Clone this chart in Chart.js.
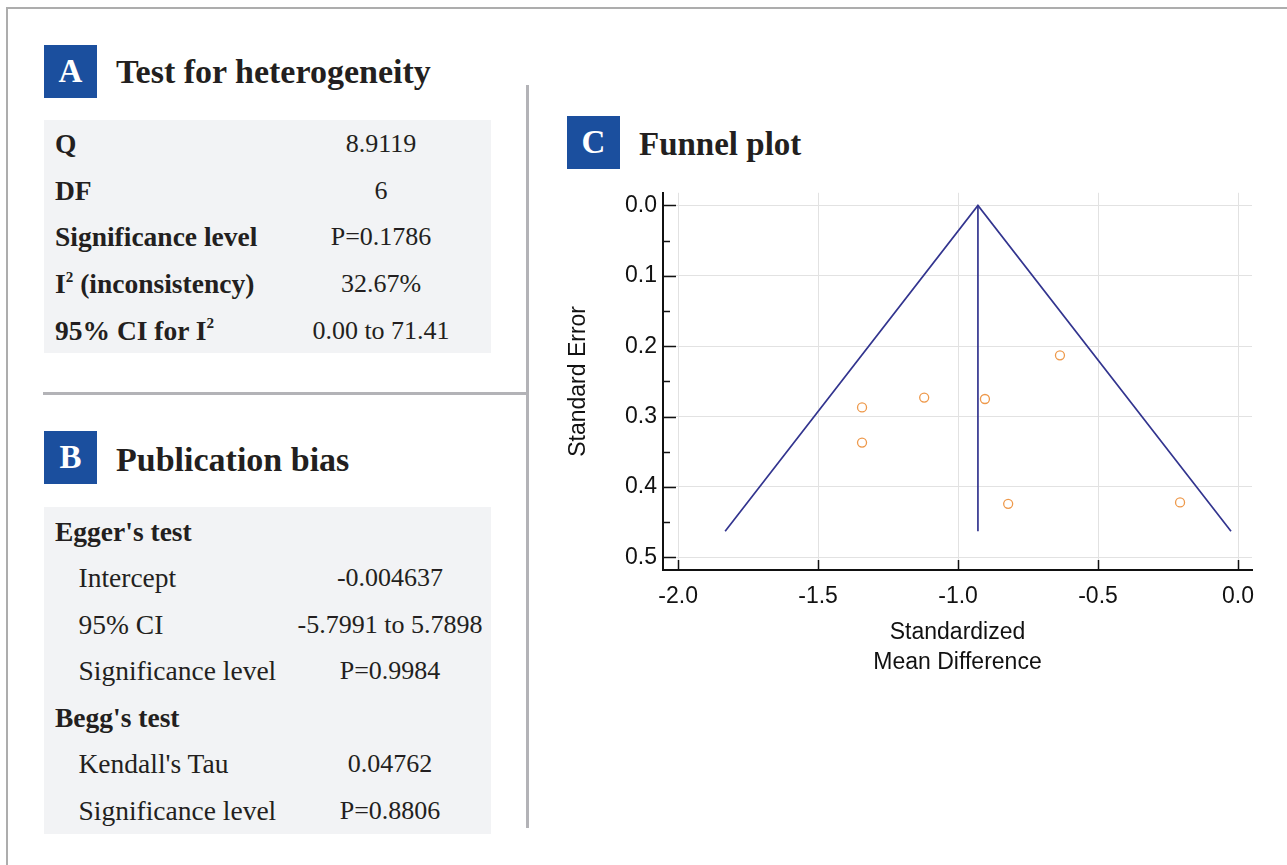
<!DOCTYPE html>
<html>
<head>
<meta charset="utf-8">
<script src="https://cdn.jsdelivr.net/npm/chart.js@4.4.1/dist/chart.umd.min.js"></script>
<style>
  html, body { margin: 0; padding: 0; background: #fff; }
  #page { position: relative; width: 1287px; height: 865px; overflow: hidden;
          font-family: "Liberation Serif", "DejaVu Serif", serif; color: #231f20; }
  .frame { position: absolute; left: 6px; top: 7px; width: 1300px; height: 900px;
           border-top: 2.5px solid #adadad; border-left: 2.5px solid #adadad; }
  .vdiv { position: absolute; left: 526px; top: 85px; width: 3px; height: 743px; background: #b3b3b7; }
  .hdiv { position: absolute; left: 43px; top: 392px; width: 486px; height: 3px; background: #b3b3b7; }
  .badge { position: absolute; width: 53px; height: 53px; background: #1b4f9e; color: #fff;
           font-weight: bold; font-size: 33px; text-align: center; line-height: 53px; }
  .title { position: absolute; font-weight: bold; font-size: 34px; height: 40px; line-height: 40px; white-space: nowrap; }
  .tbl { position: absolute; background: #f2f3f5; }
  .row { position: absolute; height: 30px; line-height: 30px; font-size: 27.5px; white-space: nowrap; }
  .b { font-weight: bold; }
  .val { transform: translateX(-50%); font-size: 26px; }
  sup { font-size: 0.55em; vertical-align: 0; position: relative; top: -0.75em; }
  #c { position: absolute; left: 560px; top: 173px; }
</style>
</head>
<body>
<div id="page">
  <div class="frame"></div>
  <div class="vdiv"></div>
  <div class="hdiv"></div>

  <div class="badge" style="left:44px; top:45px;">A</div>
  <div class="title" style="left:116px; top:52px;">Test for heterogeneity</div>
  <div class="tbl" id="tblA" style="left:44px; top:120px; width:447px; height:233px;"></div>

  <div class="badge" style="left:44px; top:431px;">B</div>
  <div class="title" style="left:116px; top:440px;">Publication bias</div>
  <div class="tbl" id="tblB" style="left:44px; top:507px; width:447px; height:327px;"></div>

  <div class="badge" style="left:567px; top:116px;">C</div>
  <div class="title" style="left:639px; top:124px; font-size:33px;">Funnel plot</div>

  <canvas id="c" width="720" height="527"></canvas>
</div>

<script>
// ---------- Panel A: Test for heterogeneity ----------
const heterogeneityLabels = ['Q', 'DF', 'Significance level', 'I<sup>2</sup> (inconsistency)', '95% CI for I<sup>2</sup>'];
const heterogeneityValues = ['8.9119', '6', 'P=0.1786', '32.67%', '0.00 to 71.41'];

// ---------- Panel B: Publication bias ----------
const biasLabels = ["Egger's test", 'Intercept', '95% CI', 'Significance level', "Begg's test", "Kendall's Tau", 'Significance level'];
const biasValues = ['', '-0.004637', '-5.7991 to 5.7898', 'P=0.9984', '', '0.04762', 'P=0.8806'];
const biasIsHeader = [true, false, false, false, true, false, false];

// ---------- Panel C: Funnel plot data ----------
const smd = [-0.636, -1.343, -1.121, -0.904, -1.343, -0.821, -0.207];   // Standardized mean difference
const se  = [0.213, 0.287, 0.273, 0.275, 0.337, 0.424, 0.422];          // Standard error
const funnelX = [-1.832, -0.929, -0.025];
const funnelY = [0.463, 0.0, 0.463];
const pooledX = [-0.929, -0.929];
const pooledY = [0.0, 0.463];
const xTicks = [-2.0, -1.5, -1.0, -0.5, 0.0];
const yTicks = [0.0, 0.1, 0.2, 0.3, 0.4, 0.5];
const yMinorTicks = [0.05, 0.15, 0.25, 0.35, 0.45];
const xTitle = ['Standardized', 'Mean Difference'];
const yTitle = 'Standard Error';

// ---------- build tables ----------
function addRow(parent, html, left, center, cls) {
  const d = document.createElement('div');
  d.className = 'row ' + (cls || '');
  d.style.left = left + 'px';
  d.style.top = (center - 15) + 'px';
  d.innerHTML = html;
  parent.appendChild(d);
}
const page = document.getElementById('page');
heterogeneityLabels.forEach((lab, i) => {
  const c = 144 + i * 46.7;
  addRow(page, lab, 55, c, 'b');
  addRow(page, heterogeneityValues[i], 381, c, 'val');
});
biasLabels.forEach((lab, i) => {
  const c = 531.7 + i * 46.5;
  addRow(page, lab, biasIsHeader[i] ? 55 : 78.5, c, biasIsHeader[i] ? 'b' : '');
  if (biasValues[i]) addRow(page, biasValues[i], 390, c, 'val');
});

// ---------- chart ----------
const innerTicks = {
  id: 'innerTicks',
  afterDraw(chart) {
    const { ctx, scales: { x, y }, chartArea: a } = chart;
    ctx.save();
    ctx.strokeStyle = '#111';
    ctx.lineWidth = 1.5;
    ctx.beginPath();
    yTicks.forEach(v => {
      const py = Math.round(y.getPixelForValue(v)) + 0.5;
      ctx.moveTo(a.left, py); ctx.lineTo(a.left + 13, py);
    });
    yMinorTicks.forEach(v => {
      const py = Math.round(y.getPixelForValue(v)) + 0.5;
      ctx.moveTo(a.left, py); ctx.lineTo(a.left + 7, py);
    });
    xTicks.forEach(v => {
      const px = Math.round(x.getPixelForValue(v)) + 0.5;
      ctx.moveTo(px, a.bottom); ctx.lineTo(px, a.bottom - 10);
    });
    ctx.stroke();
    ctx.restore();
  }
};

const sansFont = '"Liberation Sans", Arial, sans-serif';
const toPts = (xs, ys) => xs.map((x, i) => ({ x: x, y: ys[i] }));

new Chart(document.getElementById('c'), {
  type: 'scatter',
  data: {
    datasets: [
      { label: 'Funnel limits', type: 'line', data: toPts(funnelX, funnelY),
        borderColor: '#33358f', borderWidth: 1.7, pointRadius: 0, fill: false, tension: 0 },
      { label: 'Pooled estimate', type: 'line', data: toPts(pooledX, pooledY),
        borderColor: '#33358f', borderWidth: 1.7, pointRadius: 0, fill: false, tension: 0 },
      { label: 'Studies', data: toPts(smd, se), pointStyle: 'circle', pointRadius: 4.5,
        borderColor: '#ee994b', backgroundColor: 'rgba(255,255,255,0)', borderWidth: 1.3 }
    ]
  },
  options: {
    responsive: false, animation: false, devicePixelRatio: 1,
    layout: { padding: { top: 14, right: 28, left: 0, bottom: 0 } },
    plugins: { legend: { display: false }, tooltip: { enabled: false } },
    scales: {
      x: {
        type: 'linear', position: 'bottom', min: -2.054, max: 0.05,
        afterBuildTicks: s => { s.ticks = xTicks.map(v => ({ value: v })); },
        afterFit: s => { s.height = 130; },
        ticks: { callback: v => Number(v).toFixed(1), font: { family: sansFont, size: 23 },
                 color: '#111', padding: 13, maxRotation: 0, autoSkip: false },
        grid: { color: '#e2e2e2', lineWidth: 1, drawTicks: false },
        border: { color: '#111', width: 2 },
        title: { display: true, text: xTitle, color: '#111',
                 font: { family: sansFont, size: 23, lineHeight: 30 / 23 },
                 padding: { top: 0, bottom: 22 } }
      },
      y: {
        type: 'linear', reverse: true, min: -0.018, max: 0.518,
        afterBuildTicks: s => { s.ticks = yTicks.map(v => ({ value: v })); },
        afterFit: s => { s.width = 103; },
        ticks: { callback: v => Number(v).toFixed(1), font: { family: sansFont, size: 23 },
                 color: '#111', padding: 6, autoSkip: false },
        grid: { color: '#e2e2e2', lineWidth: 1, drawTicks: false },
        border: { color: '#111', width: 2 },
        title: { display: true, text: yTitle, color: '#111',
                 font: { family: sansFont, size: 23, lineHeight: 1.2 },
                 padding: { top: 5, bottom: 0 } }
      }
    }
  },
  plugins: [innerTicks]
});
</script>
</body>
</html>
